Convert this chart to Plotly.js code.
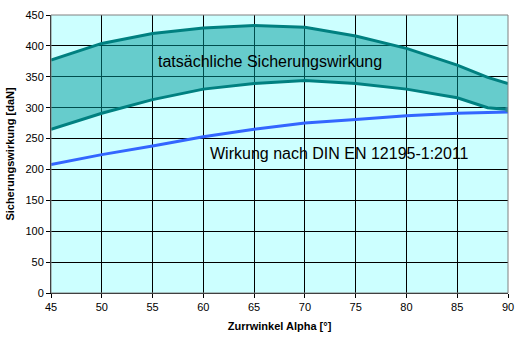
<!DOCTYPE html>
<html>
<head>
<meta charset="utf-8">
<script src="https://cdn.plot.ly/plotly-3.0.1.min.js"></script>
<style>html,body{margin:0;padding:0;background:#fff;}#chart{width:521px;height:345px;}</style>
</head>
<body>
<div id="chart"></div>
<script>
var angles = [45, 50, 55, 60, 65, 70, 75, 80, 85, 88, 90];
var upperValues = [377, 404, 420, 429, 433, 430, 416, 396, 369, 349, 339];
var lowerValues = [265, 291, 313, 330, 339, 344, 339, 330, 316, 300, 297];
var dinValues = [208, 224, 238, 253, 265, 275, 281, 287, 291, 292, 293];
var xTicks = [45, 50, 55, 60, 65, 70, 75, 80, 85, 90];
var yTicks = [0, 50, 100, 150, 200, 250, 300, 350, 400, 450];
var bandLabel = "tatsächliche Sicherungswirkung";
var dinLabel = "Wirkung nach DIN EN 12195-1:2011";

var traces = [
  {x: angles, y: lowerValues, type: 'scatter', mode: 'lines',
   line: {color: '#008080', width: 3}, hoverinfo: 'skip', showlegend: false},
  {x: angles, y: upperValues, type: 'scatter', mode: 'lines', fill: 'tonexty',
   fillcolor: 'rgba(0,153,153,0.5)', line: {color: '#008080', width: 3}, showlegend: false},
  {x: angles, y: dinValues, type: 'scatter', mode: 'lines',
   line: {color: '#3366FF', width: 3}, showlegend: false},
  {x: [angles[angles.length-1]], y: [lowerValues[lowerValues.length-1]], type: 'scatter', mode: 'markers',
   marker: {color: '#2E8B9A', size: 5, symbol: 'square'}, showlegend: false}
];

var axisFont = {family: 'Liberation Sans, Arial, sans-serif', size: 11, color: '#000'};
var layout = {
  width: 521, height: 345,
  margin: {l: 51, r: 13, t: 15, b: 52},
  paper_bgcolor: '#ffffff',
  plot_bgcolor: '#CCFFFF',
  showlegend: false,
  xaxis: {
    range: [45, 90], tickvals: xTicks, ticktext: xTicks.map(String),
    showgrid: true, gridcolor: '#000', gridwidth: 1, zeroline: false,
    showline: true, linecolor: '#000', linewidth: 1,
    ticks: 'outside', ticklen: 4, tickcolor: '#000',
    tickfont: axisFont,
    title: {text: 'Zurrwinkel Alpha [°]', font: {family: 'Liberation Sans, Arial, sans-serif', size: 11, color: '#000', weight: 'bold'}, standoff: 10}
  },
  yaxis: {
    range: [0, 450], tickvals: yTicks, ticktext: yTicks.map(String),
    showgrid: true, gridcolor: '#000', gridwidth: 1, zeroline: false,
    showline: true, linecolor: '#000', linewidth: 1,
    ticks: 'outside', ticklen: 4, tickcolor: '#000',
    tickfont: axisFont,
    title: {text: 'Sicherungswirkung [daN]', font: {family: 'Liberation Sans, Arial, sans-serif', size: 11, color: '#000', weight: 'bold'}, standoff: 8}
  },
  shapes: [
    {type: 'rect', xref: 'paper', yref: 'paper', x0: 0, x1: 1, y0: 0, y1: 1,
     line: {color: '#808080', width: 1}, fillcolor: 'rgba(0,0,0,0)'}
  ],
  annotations: [
    {x: 66.6, y: 374, xref: 'x', yref: 'y', text: bandLabel, showarrow: false,
     font: {family: 'Liberation Sans, Arial, sans-serif', size: 16, color: '#000'}},
    {x: 73.4, y: 226, xref: 'x', yref: 'y', text: dinLabel, showarrow: false,
     font: {family: 'Liberation Sans, Arial, sans-serif', size: 16, color: '#000'}}
  ]
};
Plotly.newPlot('chart', traces, layout, {displayModeBar: false, staticPlot: true});
</script>
</body>
</html>
